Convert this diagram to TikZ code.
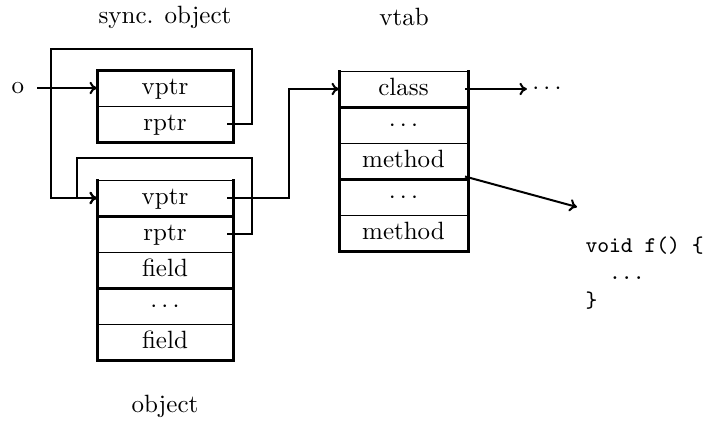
\documentclass[tikz,border=0pt]{standalone}
\usetikzlibrary{arrows.meta, positioning}
\tikzset{
  cell/.style={
    draw,
    line width=0.4pt,
    minimum width=54.4pt,
    minimum height=14.4pt,
    text height=1.6ex,
    text depth=0.45ex,
    inner sep=0pt,
    outer sep=0pt
  },
  tabcell/.style={
    cell,
    minimum width=51.6pt
  },
  rule/.style={
    line width=1.2pt,
    line cap=rect
  },
  link/.style={
    -{To[length=3pt, width=5pt]},
    line width=0.8pt
  },
  heading/.style={
    inner sep=2pt
  },
  codebox/.style={
    align=left,
    inner sep=3.2pt,
    font=\small\ttfamily
  }
}

\begin{document}
\begin{tikzpicture}[x=0.4pt, y=-0.4pt]
\useasboundingbox (0,0) rectangle (713,423);

% sync. object
\node[heading] (s-title) at (165,17) {sync. object};
\node[cell] (s-vptr) at (165,88) {vptr};
\node[cell, below=0pt of s-vptr] (s-rptr) {rptr};

% object
\node[cell] (o-vptr) at (165,198) {vptr};
\node[cell, below=0pt of o-vptr] (o-rptr) {rptr};
\node[cell, below=0pt of o-rptr] (o-f1) {field};
\node[cell, below=0pt of o-f1] (o-dots) {$\cdots$};
\node[cell, below=0pt of o-dots] (o-f2) {field};
\node[heading] (o-title) at (165,406) {object};

% vtab
\node[heading] (v-title) at (404,17) {vtab};
\node[tabcell] (v-class) at (403.5,89) {class};
\node[tabcell, below=0pt of v-class] (v-d1) {$\cdots$};
\node[tabcell, below=0pt of v-d1] (v-m1) {method};
\node[tabcell, below=0pt of v-m1] (v-d2) {$\cdots$};
\node[tabcell, below=0pt of v-d2] (v-m2) {method};

% thick sides and rules
\foreach \a/\b in {s-vptr/s-rptr, o-vptr/o-f2, v-class/v-m2}
  \draw[rule] (\a.north west) -- (\b.south west)
              (\a.north east) -- (\b.south east);
\foreach \c in {s-rptr, o-vptr, o-f1, o-f2, v-class, v-m1, v-m2}
  \draw[rule] (\c.south west) -- (\c.south east);
\draw[rule] (s-vptr.north west) -- (s-vptr.north east);

% the rest
\node[inner ysep=2pt, inner xsep=5pt] (o) at (18,88) {o};
\node[inner sep=2pt] (etc) at (547,89) {$\cdots$};
\node[codebox, anchor=north west] (code) at (577,228) {%
  void f() \{\\
  \ \ ...\\
  \}};

\coordinate (s-rp) at ([xshift=-2.4pt]s-rptr.east);
\coordinate (o-rp) at ([xshift=-2.4pt]o-rptr.east);
\coordinate (o-vp) at ([xshift=-2.4pt]o-vptr.east);
\coordinate (v-cp) at ([xshift=-1.2pt]v-class.east);
\coordinate (v-mp) at ([shift={(-1.2pt,1pt)}]v-m1.south east);

\draw[link] (o) -- (s-vptr);
\draw[link] (s-rp) -| (252,49) -| (51,198) -- (o-vptr.west);
\draw[link] (o-rp) -| (252,158) -| (77,198) -- (o-vptr.west);
\draw[link] (o-vp) -| (289,89) -- (v-class.west);
\draw[link] (v-cp) -- (etc);
\draw[link] (v-mp) -- ([yshift=8.4pt]code.north west);

\end{tikzpicture}
\end{document}
